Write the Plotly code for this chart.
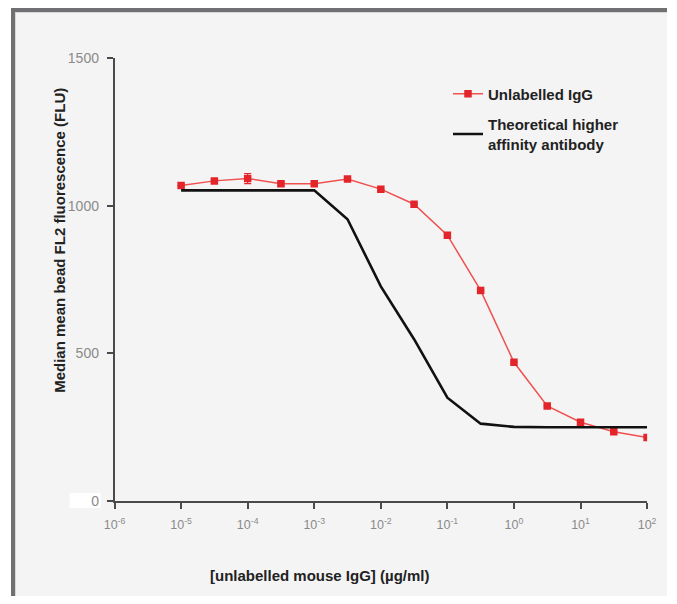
import plotly.graph_objects as go

# ---- data ----
conc = [1e-5, 3.16e-5, 1e-4, 3.16e-4, 1e-3, 3.16e-3, 1e-2, 3.16e-2,
        1e-1, 3.16e-1, 1, 3.16, 10, 31.6, 100]
unlabelled = [1068, 1084, 1092, 1074, 1074, 1090, 1056, 1005,
              900, 713, 470, 322, 267, 235, 215]
unlabelled_err = [0, 0, 17, 6, 0, 0, 0, 0, 0, 0, 0, 0, 0, 0, 0]
theoretical = [1052, 1052, 1052, 1052, 1052, 954, 727, 548,
               350, 262, 251, 250, 250, 250, 250]
x_tickvals = [1e-6, 1e-5, 1e-4, 1e-3, 1e-2, 1e-1, 1, 10, 100]
x_ticktext = ["10<sup>-6</sup>", "10<sup>-5</sup>", "10<sup>-4</sup>", "10<sup>-3</sup>",
              "10<sup>-2</sup>", "10<sup>-1</sup>", "10<sup>0</sup>", "10<sup>1</sup>",
              "10<sup>2</sup>"]
y_tickvals = [0, 500, 1000, 1500]

W, H = 677, 604
# the photographed page appears shrunk by S and offset by O; map target pixels to page pixels
S, O = 0.9734, 9.0
def P(r):
    return (r - O) / S
def px(x):
    return max(0.0, min(1.0, P(x) / W))
def py(y):
    return max(0.0, min(1.0, 1 - P(y) / H))

FONT = "Liberation Sans, Arial, Helvetica, sans-serif"
AXC = "#4a4a4a"
TICKC = "#8a8a8a"

fig = go.Figure()
fig.add_trace(go.Scatter(
    x=conc, y=unlabelled, mode="lines+markers", name="<b>Unlabelled IgG</b>",
    line=dict(color="#f0504f", width=1.5),
    marker=dict(symbol="square", size=7.5, color="#e3252b"),
    error_y=dict(type="data", array=unlabelled_err, color="#e3252b", thickness=1.2, width=3.5),
    legendgroup="a",
))
fig.add_trace(go.Scatter(
    x=conc, y=theoretical, mode="lines", name="<b>Theoretical higher<br>affinity antibody</b>",
    line=dict(color="#111111", width=2.6),
    legendgroup="b",
))

shapes = [
    dict(type="rect", xref="paper", yref="paper", x0=px(13), x1=1, y0=0, y1=py(13),
         fillcolor="#f4f4f4", line_width=0, layer="below"),
    dict(type="rect", xref="paper", yref="paper", x0=px(13), x1=1, y0=py(14), y1=py(13),
         fillcolor="#d6d6d6", line_width=0, layer="below"),
    dict(type="rect", xref="paper", yref="paper", x0=px(13), x1=px(14), y0=0, y1=py(13),
         fillcolor="#d6d6d6", line_width=0, layer="below"),
    dict(type="rect", xref="paper", yref="paper", x0=0, x1=1, y0=py(13), y1=1,
         fillcolor="#707072", line_width=0, layer="below"),
    dict(type="rect", xref="paper", yref="paper", x0=0, x1=px(13), y0=0, y1=1,
         fillcolor="#707072", line_width=0, layer="below"),
    dict(type="rect", xref="paper", yref="paper", x0=px(68), x1=px(99), y0=py(509), y1=py(494),
         fillcolor="#ffffff", line_width=0, layer="below"),
]

annotations = [
    dict(text="<b>Median mean bead FL2 fluorescence (FLU)</b>", xref="paper", yref="paper",
         x=px(57), y=py(241), textangle=-90, showarrow=False,
         font=dict(family=FONT, size=15, color="#222222"), xanchor="center", yanchor="middle"),
    dict(text="<b>[unlabelled mouse IgG] (µg/ml)</b>", xref="paper", yref="paper",
         x=px(319), y=py(576), showarrow=False,
         font=dict(family=FONT, size=15, color="#222222"), xanchor="center", yanchor="middle"),
]

fig.update_layout(
    width=W, height=H,
    margin=dict(l=0, r=0, t=0, b=0),
    paper_bgcolor="#ffffff",
    plot_bgcolor="rgba(0,0,0,0)",
    font=dict(family=FONT),
    shapes=shapes,
    annotations=annotations,
    showlegend=True,
    legend=dict(x=P(448) / W, y=1 - P(78.5) / H, xanchor="left", yanchor="top",
                bgcolor="rgba(0,0,0,0)", font=dict(family=FONT, size=15, color="#222222"),
                tracegroupgap=8, traceorder="grouped"),
    xaxis=dict(type="log", range=[-6, 2], domain=[px(113), px(648)],
               showline=True, linecolor=AXC, linewidth=1.5,
               ticks="outside", ticklen=6, tickwidth=1.5, tickcolor=AXC,
               tickvals=x_tickvals, ticktext=x_ticktext,
               tickfont=dict(family=FONT, size=12.5, color=TICKC),
               showgrid=False, zeroline=False, anchor="y", ticklabelstandoff=5),
    yaxis=dict(range=[0, 1500], domain=[py(502), py(59)],
               showline=True, linecolor=AXC, linewidth=1.5,
               ticks="outside", ticklen=6, tickwidth=1.5, tickcolor=AXC,
               tickvals=y_tickvals, ticktext=[str(v) for v in y_tickvals],
               tickfont=dict(family=FONT, size=14, color=TICKC),
               showgrid=False, zeroline=False, anchor="x", ticklabelstandoff=5),
)

fig.write_html(
    "out.html",
    config={"displayModeBar": False},
    post_script="document.body.style.margin='0';document.body.style.overflow='hidden';",
)
